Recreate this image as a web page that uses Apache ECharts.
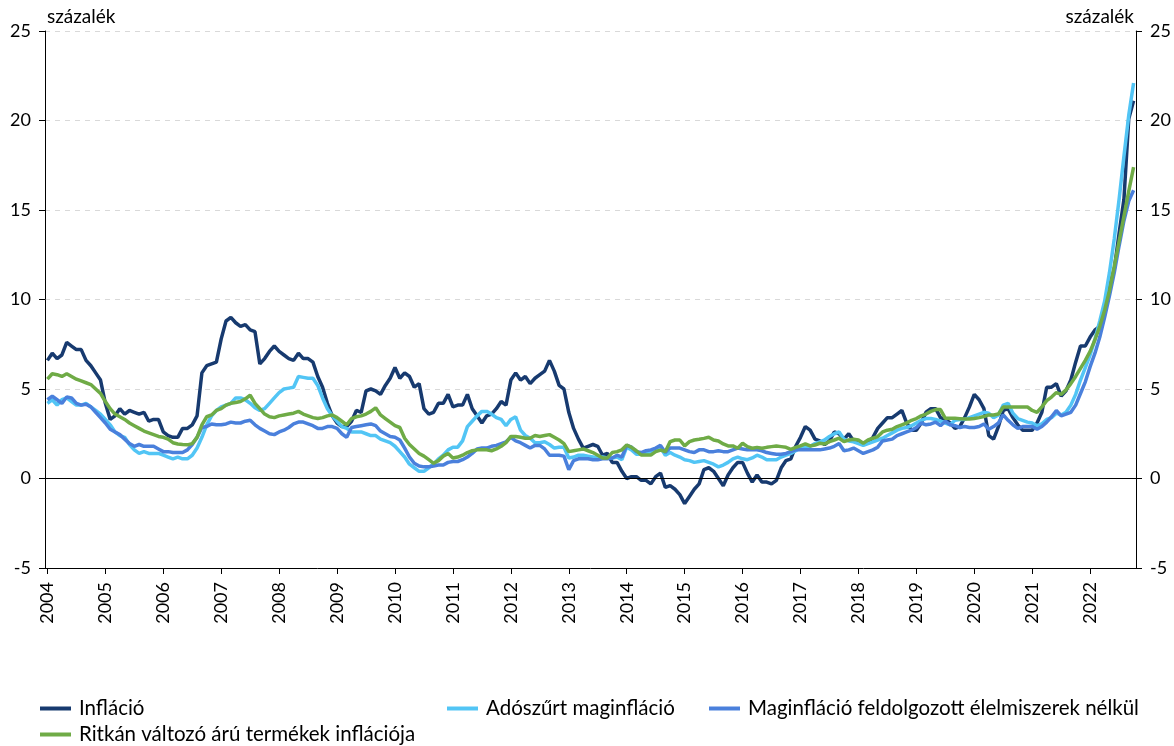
<!DOCTYPE html>
<html>
<head>
<meta charset="utf-8">
<script src="https://cdn.jsdelivr.net/npm/echarts@6/dist/echarts.min.js"></script>
<style>
html,body{margin:0;padding:0;background:#fff;}
#chart{width:1174px;height:746px;}
</style>
</head>
<body>
<div id="chart"></div>
<script>
// Monthly data, 2004-01 .. 2022-10
const startYear = 2004;
const monthCount = 226;
const yTicks = [-5, 0, 5, 10, 15, 20, 25];
const seriesNames = ['Infláció', 'Adószűrt maginfláció', 'Maginfláció feldolgozott élelmiszerek nélkül', 'Ritkán változó árú termékek inflációja'];
const unitLabel = 'százalék';

const inflacio = [
 6.6,7.0,6.7,6.9,7.6,7.4,7.2,7.2,6.6,6.3,5.9,5.5,
 4.2,3.3,3.5,3.9,3.6,3.8,3.7,3.6,3.7,3.2,3.3,3.3,
 2.6,2.4,2.3,2.3,2.8,2.8,3.0,3.5,5.9,6.3,6.4,6.5,
 7.8,8.8,9.0,8.7,8.5,8.6,8.3,8.2,6.4,6.7,7.1,7.4,
 7.1,6.9,6.7,6.6,7.0,6.7,6.7,6.5,5.7,5.1,4.2,3.5,
 3.1,2.9,2.9,3.2,3.8,3.7,4.9,5.0,4.9,4.7,5.2,5.6,
 6.2,5.6,5.9,5.7,5.1,5.3,3.9,3.6,3.7,4.2,4.2,4.7,
 4.0,4.1,4.1,4.7,3.9,3.5,3.1,3.5,3.6,3.9,4.3,4.1,
 5.5,5.9,5.5,5.7,5.3,5.6,5.8,6.0,6.6,6.0,5.2,5.0,
 3.7,2.8,2.2,1.7,1.8,1.9,1.8,1.3,1.4,0.9,0.9,0.4,
 0.0,0.1,0.1,-0.1,-0.1,-0.3,0.1,0.3,-0.5,-0.4,-0.6,-0.9,
 -1.4,-1.0,-0.6,-0.3,0.5,0.6,0.4,0.0,-0.4,0.2,0.6,0.9,
 0.9,0.3,-0.2,0.2,-0.2,-0.2,-0.3,-0.1,0.6,1.0,1.1,1.8,
 2.3,2.9,2.7,2.2,2.1,1.9,2.1,2.6,2.5,2.2,2.5,2.1,
 2.1,1.9,2.0,2.3,2.8,3.1,3.4,3.4,3.6,3.8,3.1,2.7,
 2.7,3.1,3.7,3.9,3.9,3.4,3.3,3.1,2.8,2.9,3.4,4.0,
 4.7,4.4,3.9,2.4,2.2,2.9,3.8,3.9,3.4,3.0,2.7,2.7,
 2.7,3.1,3.7,5.1,5.1,5.3,4.6,4.9,5.5,6.5,7.4,7.4,
 7.9,8.3,8.5,9.5,10.7,11.7,13.7,15.6,20.1,21.1
];

const adoszurt = [
 4.2,4.4,4.1,4.4,4.5,4.3,4.1,4.1,4.2,4.0,3.8,3.6,
 3.3,3.0,2.6,2.4,2.3,1.9,1.6,1.4,1.5,1.4,1.4,1.4,
 1.3,1.2,1.1,1.2,1.1,1.1,1.3,1.7,2.3,3.0,3.5,3.8,
 4.0,4.1,4.2,4.5,4.5,4.4,4.2,3.95,3.8,3.9,4.2,4.5,
 4.8,5.0,5.05,5.1,5.7,5.65,5.6,5.6,5.2,4.5,3.9,3.5,
 3.2,2.9,2.8,2.6,2.6,2.6,2.5,2.4,2.4,2.2,2.1,2.0,
 1.8,1.5,1.2,0.8,0.6,0.4,0.4,0.6,0.8,1.1,1.3,1.6,
 1.75,1.75,2.1,2.9,3.2,3.5,3.75,3.75,3.6,3.4,3.3,2.95,
 3.3,3.45,2.7,2.4,2.25,2.0,2.0,2.05,1.9,1.7,1.75,1.75,
 1.15,1.2,1.3,1.3,1.25,1.2,1.15,1.2,1.15,1.15,1.2,1.05,
 1.75,1.6,1.35,1.35,1.4,1.5,1.6,1.75,1.3,1.45,1.3,1.2,
 1.05,1.0,0.9,0.95,1.0,0.9,0.8,0.65,0.75,0.9,1.1,1.2,
 1.1,1.05,1.15,1.3,1.2,1.05,1.05,1.05,1.2,1.3,1.4,1.55,
 1.7,1.75,1.8,1.95,2.05,2.15,2.35,2.5,2.6,2.2,2.1,2.05,
 1.95,1.85,1.95,2.05,2.15,2.25,2.4,2.55,2.7,2.8,2.85,2.95,
 3.1,3.25,3.35,3.35,3.3,3.2,3.1,3.0,3.25,3.3,3.3,3.4,
 3.5,3.6,3.7,3.65,3.4,3.55,4.1,4.2,3.65,3.35,3.25,3.15,
 3.1,2.95,3.05,3.3,3.4,3.65,3.55,3.7,4.1,4.7,5.5,6.2,
 6.9,7.8,8.8,9.9,11.5,13.4,15.6,18.0,20.3,22.1
];

const maginflacio = [
 4.4,4.6,4.4,4.2,4.55,4.5,4.2,4.1,4.15,4.0,3.7,3.4,
 3.1,2.75,2.6,2.45,2.2,1.95,1.8,1.9,1.8,1.8,1.8,1.65,
 1.5,1.5,1.45,1.45,1.45,1.6,1.9,2.3,2.85,2.9,3.05,3.0,
 3.0,3.05,3.15,3.1,3.1,3.2,3.25,3.0,2.8,2.65,2.5,2.45,
 2.6,2.7,2.85,3.05,3.15,3.15,3.05,2.95,2.8,2.8,2.9,2.9,
 2.8,2.5,2.3,2.85,2.9,2.95,3.0,3.05,2.95,2.65,2.5,2.35,
 2.3,2.15,1.7,1.2,0.85,0.7,0.65,0.66,0.7,0.75,0.75,0.9,
 0.95,0.95,1.05,1.2,1.4,1.65,1.7,1.7,1.8,1.85,1.95,2.05,
 2.3,2.1,2.0,1.85,1.7,1.85,1.85,1.65,1.3,1.3,1.3,1.25,
 0.5,1.0,1.1,1.1,1.1,1.05,1.05,1.1,1.1,1.15,1.3,1.2,
 1.85,1.75,1.5,1.45,1.55,1.6,1.7,1.85,1.45,1.7,1.7,1.7,
 1.6,1.5,1.45,1.6,1.6,1.5,1.5,1.55,1.5,1.5,1.6,1.7,
 1.65,1.6,1.6,1.6,1.55,1.45,1.4,1.35,1.35,1.4,1.5,1.6,
 1.6,1.6,1.6,1.6,1.6,1.65,1.7,1.8,1.95,1.55,1.6,1.7,
 1.55,1.4,1.5,1.6,1.75,2.1,2.15,2.2,2.4,2.5,2.6,2.7,
 2.85,3.1,3.0,3.05,3.15,2.95,3.2,3.0,2.95,2.85,2.9,2.85,
 2.85,2.9,3.05,2.75,2.9,3.1,3.55,3.25,3.0,2.8,2.9,2.9,
 2.9,2.75,2.9,3.15,3.45,3.8,3.5,3.6,3.7,4.1,4.75,5.4,
 6.25,7.0,7.9,9.0,10.2,11.5,13.0,14.4,15.5,16.1
];

const ritkan = [
 5.55,5.85,5.8,5.7,5.85,5.7,5.55,5.45,5.35,5.25,5.0,4.75,
 4.3,3.9,3.6,3.45,3.3,3.1,2.95,2.8,2.65,2.55,2.45,2.35,
 2.3,2.2,2.0,1.93,1.9,1.88,1.95,2.3,3.0,3.45,3.55,3.8,
 3.9,4.1,4.2,4.25,4.3,4.45,4.65,4.2,3.9,3.6,3.45,3.4,
 3.5,3.55,3.6,3.65,3.75,3.6,3.5,3.4,3.35,3.4,3.5,3.55,
 3.4,3.2,3.0,3.35,3.45,3.5,3.6,3.75,3.95,3.55,3.35,3.15,
 2.95,2.85,2.25,1.9,1.65,1.4,1.25,1.05,0.85,1.0,1.25,1.4,
 1.15,1.2,1.3,1.45,1.55,1.6,1.6,1.6,1.55,1.65,1.8,2.0,
 2.35,2.35,2.3,2.25,2.25,2.4,2.35,2.4,2.45,2.3,2.15,1.95,
 1.5,1.55,1.6,1.65,1.55,1.45,1.3,1.15,1.15,1.45,1.5,1.6,
 1.87,1.74,1.55,1.31,1.31,1.31,1.5,1.59,1.5,2.06,2.15,2.15,
 1.82,2.06,2.15,2.19,2.24,2.3,2.15,2.1,1.93,1.82,1.82,1.69,
 1.97,1.78,1.69,1.74,1.69,1.74,1.78,1.82,1.78,1.74,1.63,1.74,
 1.82,1.93,1.82,1.87,1.97,1.93,2.06,2.15,2.25,2.06,2.15,2.19,
 2.15,1.97,2.15,2.25,2.34,2.6,2.7,2.75,2.9,3.0,3.1,3.25,
 3.35,3.5,3.6,3.75,3.85,3.85,3.36,3.36,3.36,3.34,3.32,3.32,
 3.35,3.4,3.46,3.55,3.55,3.6,4.0,4.0,4.0,4.0,4.0,4.0,
 3.8,3.7,4.0,4.35,4.55,4.8,4.7,4.95,5.3,5.7,6.15,6.6,
 7.1,7.75,8.5,9.4,10.5,11.85,13.25,14.65,16.05,17.4
];

const colors = ['#173a6f', '#52c5f5', '#4a80dc', '#6fab46'];
const FONT = 'Lato, "Open Sans", sans-serif';

const categories = [];
for (let i = 0; i < monthCount; i++) {
  const y = startYear + Math.floor(i / 12);
  const m = (i % 12) + 1;
  categories.push(y + '-' + (m < 10 ? '0' + m : m));
}
const isJan = (idx) => idx % 12 === 0;

const chart = echarts.init(document.getElementById('chart'), null, {renderer: 'canvas'});

function yAxisCfg(pos) {
  return {
    type: 'value', position: pos,
    min: yTicks[0], max: yTicks[yTicks.length - 1], interval: 5,
    name: unitLabel, nameLocation: 'end', nameGap: 5,
    nameTextStyle: {fontFamily: FONT, fontSize: 19, color: '#000', align: pos === 'left' ? 'left' : 'right', padding: pos === 'left' ? [0,0,0,2] : [0,2,0,0]},
    axisLine: {show: true, lineStyle: {color: '#000', width: 1}},
    axisTick: {show: true, length: 6, lineStyle: {color: '#000'}},
    axisLabel: {fontFamily: FONT, fontSize: 18, color: '#000', margin: 14},
    splitLine: {show: pos === 'left', lineStyle: {color: '#d9d9d9', type: [5, 5], width: 1}}
  };
}

const seriesData = [inflacio, adoszurt, maginflacio, ritkan];
const series = seriesData.map((d, k) => ({
  name: seriesNames[k], type: 'line', data: d, yAxisIndex: 0,
  showSymbol: false, symbol: 'none', smooth: false,
  lineStyle: {width: 3.5, color: colors[k]}, itemStyle: {color: colors[k]},
  z: 3 + k, animation: false
}));
series[0].markLine = {
  silent: true, symbol: 'none', label: {show: false}, animation: false,
  lineStyle: {color: '#000', width: 1.2, type: 'solid'},
  data: [{yAxis: 0}]
};

const legendBase = {
  icon: 'rect', itemWidth: 31, itemHeight: 4, padding: 0, itemGap: 0,
  textStyle: {fontFamily: FONT, fontSize: 20.5, color: '#000', padding: [0, 0, 0, 3]},
  selectedMode: false
};
const legends = [
  Object.assign({}, legendBase, {data: [seriesNames[0]], left: 40, top: 698}),
  Object.assign({}, legendBase, {data: [seriesNames[1]], left: 447, top: 698}),
  Object.assign({}, legendBase, {data: [seriesNames[2]], left: 709, top: 698}),
  Object.assign({}, legendBase, {data: [seriesNames[3]], left: 40, top: 724})
];

chart.setOption({
  animation: false,
  backgroundColor: '#fff',
  color: colors,
  textStyle: {fontFamily: FONT},
  grid: {left: 45, right: 38, top: 31, bottom: 178, containLabel: false},
  legend: legends,
  xAxis: {
    type: 'category', data: categories, boundaryGap: true,
    axisLine: {show: true, onZero: false, lineStyle: {color: '#000', width: 1}},
    axisTick: {show: true, alignWithLabel: true, interval: (idx) => isJan(idx), length: 6, lineStyle: {color: '#000'}},
    axisLabel: {
      interval: (idx) => isJan(idx), rotate: 90, margin: 14,
      fontFamily: FONT, fontSize: 18, color: '#000',
      formatter: (v) => v.slice(0, 4)
    },
    splitLine: {show: false}
  },
  yAxis: [yAxisCfg('left'), yAxisCfg('right')],
  series: series
});
</script>
</body>
</html>
